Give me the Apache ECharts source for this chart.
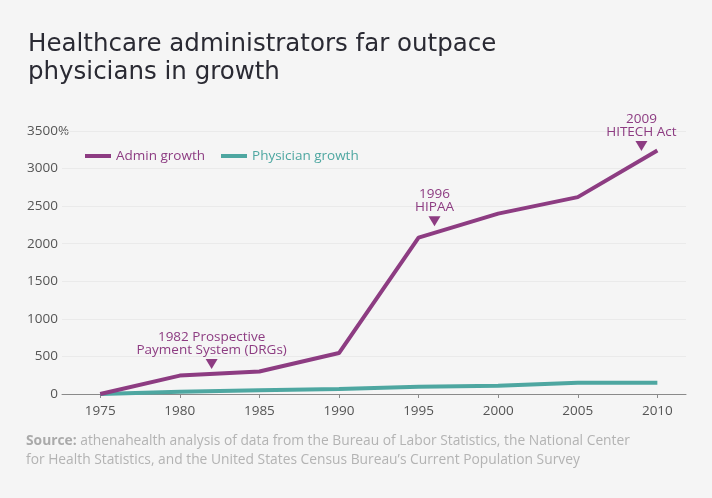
<!DOCTYPE html>
<html>
<head>
<meta charset="utf-8">
<script src="https://cdn.jsdelivr.net/npm/echarts@6/dist/echarts.min.js"></script>
<style>
  html, body { margin: 0; padding: 0; background: #f5f5f5; }
  #chart { width: 712px; height: 498px; }
</style>
</head>
<body>
<div id="chart"></div>
<script>
var years = [1975, 1980, 1985, 1990, 1995, 2000, 2005, 2010];
var adminGrowth = [0, 245, 300, 545, 2080, 2400, 2620, 3240];
var physicianGrowth = [0, 30, 50, 65, 97, 110, 150, 150];

// annotations: year, height on the y scale, text
var noteYears = [1982, 1996, 2009];
var noteHeights = [400, 2300, 3300];
var noteTexts = ['1982 Prospective\nPayment System (DRGs)', '1996\nHIPAA', '2009\nHITECH Act'];

var purple = '#8d3c82';
var teal = '#4ea7a1';
var font = '"Open Sans", "Noto Sans", sans-serif';
var titleFont = '"DejaVu Sans", "Open Sans", sans-serif';

function pairs(xs, ys) {
    return xs.map(function (x, i) { return [x, ys[i]]; });
}

var chart = echarts.init(document.getElementById('chart'));
var option = {
    animation: false,
    backgroundColor: '#f5f5f5',
    textStyle: { fontFamily: font },
    title: {
        text: 'Healthcare administrators far outpace\nphysicians in growth',
        left: 23,
        top: 26,
        textStyle: { fontSize: 24.5, fontWeight: 'normal', color: '#2a2a33', lineHeight: 28, fontFamily: titleFont }
    },
    legend: {
        left: 80,
        top: 144,
        icon: 'rect',
        itemWidth: 26,
        itemHeight: 4,
        itemGap: 16,
        data: [
            { name: 'Admin growth', textStyle: { color: purple } },
            { name: 'Physician growth', textStyle: { color: teal } }
        ],
        textStyle: { fontSize: 13.5, fontFamily: font }
    },
    grid: { left: 62, right: 26, top: 131, bottom: 104 },
    xAxis: {
        type: 'value',
        min: 1972.6,
        max: 2011.8,
        splitLine: { show: false },
        axisLine: { lineStyle: { color: '#8a8a8a', width: 1 } },
        axisTick: { show: true, length: 4, customValues: years, lineStyle: { color: '#8a8a8a' } },
        axisLabel: {
            customValues: years,
            color: '#555',
            fontSize: 13.5,
            margin: 10,
            fontFamily: font,
            formatter: function (v) { return String(v); }
        }
    },
    yAxis: {
        type: 'value',
        min: 0,
        max: 3500,
        interval: 500,
        axisLine: { show: false },
        axisTick: { show: false },
        splitLine: { lineStyle: { color: '#eaeaea' } },
        axisLabel: {
            color: '#555',
            fontSize: 13.5,
            margin: 4,
            fontFamily: font,
            formatter: function (v) { return String(v); }
        }
    },
    graphic: [
        {
            type: 'text',
            x: 58,
            y: 131,
            style: { text: '%', fill: '#555', fontSize: 13.5, fontFamily: font, verticalAlign: 'middle', align: 'left' }
        },
        {
            type: 'text',
            left: 26,
            top: 432,
            style: {
                text: '{b|Source:} athenahealth analysis of data from the Bureau of Labor Statistics, the National Center\nfor Health Statistics, and the United States Census Bureau\u2019s Current Population Survey',
                fill: '#b3b3b3',
                fontSize: 13.8,
                fontFamily: font,
                lineHeight: 19,
                rich: {
                    b: { fontWeight: 'bold', fill: '#aaaaaa', fontSize: 13.8, fontFamily: font, lineHeight: 19 }
                }
            }
        }
    ],
    series: [
        {
            name: 'Admin growth',
            type: 'line',
            data: pairs(years, adminGrowth),
            showSymbol: false,
            lineStyle: { color: purple, width: 4 },
            itemStyle: { color: purple },
            z: 3,
            markPoint: {
                symbol: 'triangle',
                symbolSize: [12, 10],
                symbolRotate: 180,
                itemStyle: { color: purple },
                label: {
                    show: true,
                    position: 'top',
                    distance: 2,
                    color: purple,
                    fontSize: 13.5,
                    lineHeight: 13.5,
                    fontFamily: font,
                    formatter: function (p) { return p.data.note; }
                },
                data: noteYears.map(function (y, i) {
                    return { coord: [y, noteHeights[i]], note: noteTexts[i] };
                })
            }
        },
        {
            name: 'Physician growth',
            type: 'line',
            data: pairs(years, physicianGrowth),
            showSymbol: false,
            lineStyle: { color: teal, width: 4 },
            itemStyle: { color: teal },
            z: 2
        }
    ]
};
chart.setOption(option);
window.addEventListener('resize', chart.resize);
</script>
</body>
</html>
